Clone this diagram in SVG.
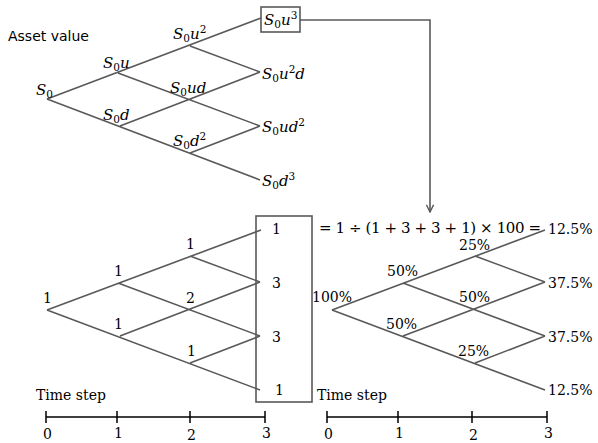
<svg xmlns="http://www.w3.org/2000/svg" width="598" height="443" viewBox="0 0 598 443">
<defs>
<style>
.ln{stroke:#595959;stroke-width:1.6;fill:none}
.ax{stroke:#000;stroke-width:1.5;fill:none}
.box{stroke:#595959;stroke-width:1.6;fill:#fff}
.m{font-family:"DejaVu Serif","Liberation Serif",serif;font-style:italic;font-size:15px;fill:#000}
.m .s{font-style:normal;font-size:10.5px}
.n{font-family:"DejaVu Serif","Liberation Serif",serif;font-size:14px;fill:#000}
.eq{font-family:"DejaVu Serif","Liberation Serif",serif;font-size:15px;fill:#000}
.t{font-family:"DejaVu Sans","Noto Sans",sans-serif;font-size:14px;fill:#000}
</style>
<marker id="ah" viewBox="0 0 10 10" refX="9" refY="5" markerWidth="9" markerHeight="9" markerUnits="userSpaceOnUse" orient="auto">
<path d="M1,1 L9,5 L1,9" fill="none" stroke="#595959" stroke-width="1.6"/>
</marker>
</defs>
<rect width="598" height="443" fill="#fff"/>

<g id="connectors">
<path class="ln" d="M47,99 L261,18 M118,73 L260,126 M47,99 L260,180 M120,126 L260,72 M190,46 L260,72 M190,153 L260,126"/>
<path class="ln" d="M300,20 H430 V212" marker-end="url(#ah)"/>
<path class="ln" d="M47,310 L261,230 M118,283 L260,336 M47,310 L260,390 M120,336 L260,282 M190,256 L260,282 M190,363 L260,336"/>
<path class="ln" d="M332,310 L545,230 M403,283 L545,336 M332,310 L545,390 M403,336 L545,282 M475,256 L545,282 M475,363 L545,336"/>
</g>

<g id="title"><text class="t" x="8" y="41">Asset value</text></g>

<g id="s0"><text class="m" x="36" y="95">S<tspan class="s" dy="3">0</tspan></text></g>
<g id="s0u"><text class="m" x="103" y="68">S<tspan class="s" dy="3">0</tspan><tspan dy="-3">u</tspan></text></g>
<g id="s0d"><text class="m" x="103" y="120">S<tspan class="s" dy="3">0</tspan><tspan dy="-3">d</tspan></text></g>
<g id="s0u2"><text class="m" x="173" y="39">S<tspan class="s" dy="3">0</tspan><tspan dy="-3">u</tspan><tspan class="s" dy="-6">2</tspan></text></g>
<g id="s0ud"><text class="m" x="170" y="93">S<tspan class="s" dy="3">0</tspan><tspan dy="-3">ud</tspan></text></g>
<g id="s0d2"><text class="m" x="173" y="146">S<tspan class="s" dy="3">0</tspan><tspan dy="-3">d</tspan><tspan class="s" dy="-6">2</tspan></text></g>
<g id="s0u3"><rect class="box" x="261" y="7" width="39" height="25"/><text class="m" x="264" y="25">S<tspan class="s" dy="3">0</tspan><tspan dy="-3">u</tspan><tspan class="s" dy="-6">3</tspan></text></g>
<g id="s0u2d"><text class="m" x="262" y="79">S<tspan class="s" dy="3">0</tspan><tspan dy="-3">u</tspan><tspan class="s" dy="-6">2</tspan><tspan dy="6">d</tspan></text></g>
<g id="s0ud2"><text class="m" x="262" y="132">S<tspan class="s" dy="3">0</tspan><tspan dy="-3">ud</tspan><tspan class="s" dy="-6">2</tspan></text></g>
<g id="s0d3"><text class="m" x="262" y="186">S<tspan class="s" dy="3">0</tspan><tspan dy="-3">d</tspan><tspan class="s" dy="-6">3</tspan></text></g>

<g id="countbox"><rect class="box" x="256" y="216" width="56" height="186" style="fill:none"/></g>
<g id="counts">
<text class="n" x="43" y="303">1</text>
<text class="n" x="114" y="276">1</text>
<text class="n" x="114" y="329">1</text>
<text class="n" x="186" y="249">1</text>
<text class="n" x="186" y="303">2</text>
<text class="n" x="187" y="356">1</text>
<text class="n" x="272" y="234">1</text>
<text class="n" x="272" y="288">3</text>
<text class="n" x="272" y="342">3</text>
<text class="n" x="275" y="395">1</text>
</g>

<g id="equation"><text class="eq" x="319" y="233" textLength="222" lengthAdjust="spacing">= 1 ÷ (1 + 3 + 3 + 1) × 100 =</text></g>

<g id="probs">
<text class="n" x="312" y="302">100%</text>
<text class="n" x="387" y="276">50%</text>
<text class="n" x="386" y="329">50%</text>
<text class="n" x="459" y="250">25%</text>
<text class="n" x="459" y="302">50%</text>
<text class="n" x="458" y="356">25%</text>
<text class="n" x="548" y="234">12.5%</text>
<text class="n" x="548" y="288">37.5%</text>
<text class="n" x="548" y="342">37.5%</text>
<text class="n" x="548" y="395">12.5%</text>
</g>

<g id="timeline-left">
<text class="n" x="36" y="400">Time step</text>
<path class="ax" d="M46,417 H265 M46,411 V423 M117,411 V423 M190,411 V423 M265,411 V423"/>
<text class="n" x="43" y="439">0</text>
<text class="n" x="114" y="438">1</text>
<text class="n" x="187" y="440">2</text>
<text class="n" x="262" y="438">3</text>
</g>
<g id="timeline-right">
<text class="n" x="317" y="400">Time step</text>
<path class="ax" d="M327,417 H547 M327,411 V423 M398,411 V423 M472,411 V423 M547,411 V423"/>
<text class="n" x="324" y="439">0</text>
<text class="n" x="395" y="438">1</text>
<text class="n" x="469" y="440">2</text>
<text class="n" x="544" y="438">3</text>
</g>
</svg>
